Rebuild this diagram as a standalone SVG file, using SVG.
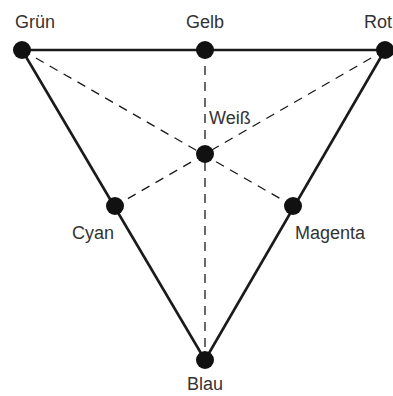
<svg xmlns="http://www.w3.org/2000/svg" width="393" height="396" viewBox="0 0 393 396">
<style>
.edge{stroke:#1a1a1a;stroke-width:2.6;fill:none}
.dash{stroke:#1a1a1a;stroke-width:1.3;fill:none;stroke-dasharray:9 7}
.dot{fill:#111}
text{font-family:"Liberation Sans",Arial,sans-serif;font-size:18px;fill:#333}
</style>
<rect width="393" height="396" fill="#fff"/>
<g id="connectors">
<line class="dash" x1="22" y1="50" x2="293" y2="206"/>
<line class="dash" x1="385" y1="50" x2="115" y2="206"/>
<line class="dash" x1="205" y1="50" x2="205" y2="360"/>
<line class="edge" x1="22" y1="50" x2="385" y2="50"/>
<line class="edge" x1="22" y1="50" x2="205" y2="360"/>
<line class="edge" x1="385" y1="50" x2="205" y2="360"/>
</g>
<g id="gruen"><circle class="dot" cx="22" cy="50" r="9"/><text x="35" y="28" text-anchor="middle">Grün</text></g>
<g id="gelb"><circle class="dot" cx="205" cy="50" r="9"/><text x="205" y="28" text-anchor="middle">Gelb</text></g>
<g id="rot"><circle class="dot" cx="385" cy="50" r="9"/><text x="392" y="28" text-anchor="end">Rot</text></g>
<g id="weiss"><circle class="dot" cx="205" cy="154" r="9"/><text x="209" y="124">Weiß</text></g>
<g id="cyan"><circle class="dot" cx="115" cy="206" r="9"/><text x="93" y="239" text-anchor="middle">Cyan</text></g>
<g id="magenta"><circle class="dot" cx="293" cy="206" r="9"/><text x="330" y="239" text-anchor="middle">Magenta</text></g>
<g id="blau"><circle class="dot" cx="205" cy="360" r="9"/><text x="205" y="390" text-anchor="middle">Blau</text></g>
</svg>
